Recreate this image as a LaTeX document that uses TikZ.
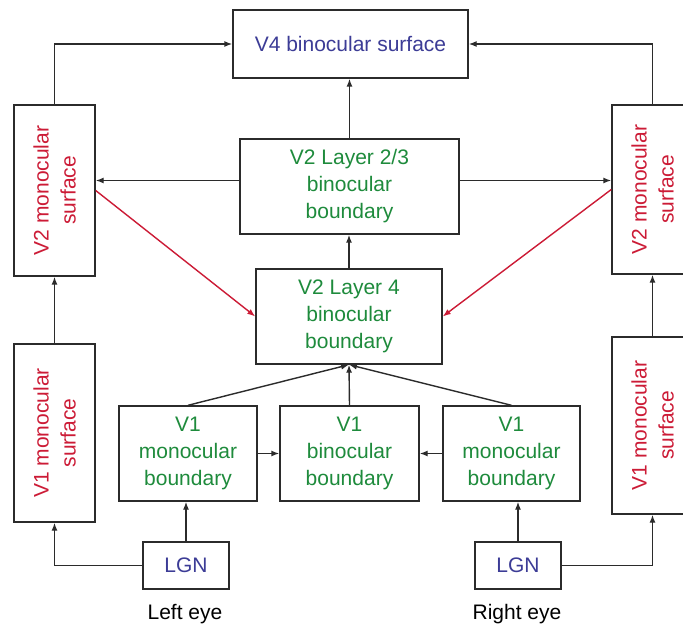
\documentclass[tikz,border=0pt]{standalone}
\usepackage{fontspec}
\setmainfont{Liberation Sans}
\definecolor{visblue}{HTML}{3C3C96}
\definecolor{visred}{HTML}{CC1B36}
\definecolor{visgreen}{HTML}{1E8B3C}
\definecolor{boxline}{HTML}{2B2B2B}
\usetikzlibrary{arrows.meta,positioning,calc}

\begin{document}
\begin{tikzpicture}[x=1pt,y=1pt,
  bx/.style={draw=boxline, line width=1.4pt, inner sep=0pt,
             align=center, font=\fontsize{21}{27}\selectfont},
  vbx/.style={bx, rotate=90, minimum width=175pt, minimum height=81pt,
              text=visred},
  bnd/.style={bx, minimum height=95pt, text=visgreen},
  lgn/.style={bx, minimum width=86pt, minimum height=47pt, text=visblue},
  arr/.style={-{Latex[length=8pt,width=6pt]}, draw=boxline, line width=1.4pt},
  rarr/.style={arr, draw=visred}
]
  \fill[white] (0,0) rectangle (683,630);
  \useasboundingbox (0,0) rectangle (683,630);

  % top
  \node[bx, minimum width=235pt, minimum height=68pt, text=visblue]
    (v4) at (350.5,586) {V4 binocular surface};

  % V2 (rotated boxes: east = top, west = bottom, south = right, north = left)
  \node[bnd, minimum width=219pt] (l23) at (349.5,443.5)
    {V2 Layer 2/3\\binocular\\boundary};
  \node[bnd, minimum width=186pt] (l4) at (349,313.5)
    {V2 Layer 4\\binocular\\boundary};
  \node[vbx, minimum width=171pt] (v2l) at (54.5,439.5) {V2 monocular\\surface};
  \node[vbx, minimum width=169pt] (v2r) at (652.5,440.5) {V2 monocular\\surface};

  % V1
  \node[vbx, minimum width=178pt] (v1l) at (54.5,197) {V1 monocular\\surface};
  \node[vbx, minimum width=177pt] (v1r) at (652.5,204.5) {V1 monocular\\surface};
  \node[bnd, minimum width=138pt] (mbl) at (188,176.5) {V1\\monocular\\boundary};
  \node[bnd, minimum width=139pt] (bin) at (349.5,176.5) {V1\\binocular\\boundary};
  \node[bnd, minimum width=137pt] (mbr) at (511.5,176.5) {V1\\monocular\\boundary};

  % LGN and eyes
  \node[lgn] (lgnl) at (186,64.5) {LGN};
  \node[lgn] (lgnr) at (518,64.5) {LGN};
  \node[font=\fontsize{21}{27}\selectfont] (eyel) at (185,16) {Left eye};
  \node[font=\fontsize{21}{27}\selectfont] (eyer) at (517,16) {Right eye};

  % connections
  \draw[arr] (v2l.east) |- (v4.west);
  \draw[arr] (v2r.east) |- (v4.east);
  \draw[arr] (l23.north) -- (l23.north |- v4.south);
  \draw[arr] (l4.north) -- (l4.north |- l23.south);
  \draw[arr] ([yshift=6pt]l23.west) -- ([yshift=6pt]l23.west -| v2l.south);
  \draw[arr] ([yshift=6pt]l23.east) -- ([yshift=6pt]l23.east -| v2r.north);
  \draw[rarr] (v2l.south) -- (l4.west);
  \draw[rarr] (v2r.north) -- (l4.east);

  \draw[arr] (mbl.north) -- (l4.south);
  \draw[arr] (bin.north) -- (l4.south);
  \draw[arr] (mbr.north) -- (l4.south);
  \draw[arr] (mbl.east) -- (bin.west);
  \draw[arr] (mbr.west) -- (bin.east);

  \draw[arr] (lgnl.north) -- (lgnl.north |- mbl.south);
  \draw[arr] (lgnr.north) -- (lgnr.north |- mbr.south);
  \draw[arr] (lgnl.west) -| (v1l.west);
  \draw[arr] (lgnr.east) -| (v1r.west);
  \draw[arr] (v1l.east) -- (v1l.east |- v2l.west);
  \draw[arr] (v1r.east) -- (v1r.east |- v2r.west);
\end{tikzpicture}
\end{document}
